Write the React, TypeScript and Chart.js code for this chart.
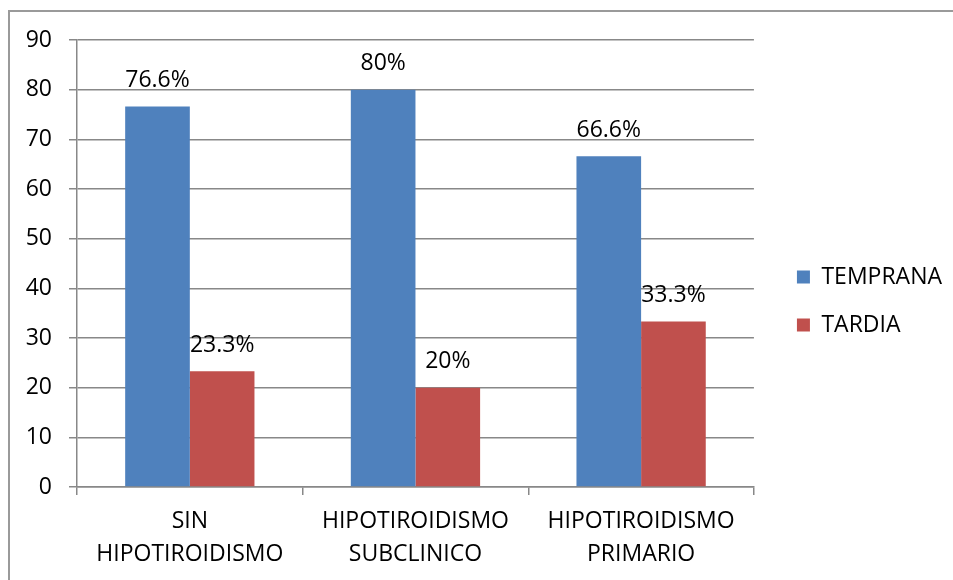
import React, { useEffect, useRef } from "react";
import { Chart, registerables } from "chart.js";

Chart.register(...registerables);

const categories: string[][] = [
  ["SIN", "HIPOTIROIDISMO"],
  ["HIPOTIROIDISMO", "SUBCLINICO"],
  ["HIPOTIROIDISMO", "PRIMARIO"],
];
const seriesNames = ["TEMPRANA", "TARDIA"];
const temprana = [76.6, 80, 66.6];
const tardia = [23.3, 20, 33.3];
const yMin = 0;
const yMax = 90;
const yStep = 10;

const FONT = "'Open Sans', sans-serif";
const FS = 23;
const GRID = "#888888";

const valueLabels = {
  id: "valueLabels",
  afterDatasetsDraw(chart: any) {
    const ctx = chart.ctx;
    ctx.save();
    ctx.font = `${FS}px ${FONT}`;
    ctx.fillStyle = "#000";
    ctx.textAlign = "center";
    ctx.textBaseline = "middle";
    chart.data.datasets.forEach((ds: any, i: number) => {
      const meta = chart.getDatasetMeta(i);
      meta.data.forEach((bar: any, j: number) => {
        ctx.fillText(`${ds.data[j]}%`, bar.x, bar.y - 26);
      });
    });
    ctx.restore();
  },
};

const legendShift = {
  id: "legendShift",
  afterLayout(chart: any) {
    const l = chart.legend;
    if (!l) return;
    const dx = 18;
    const dy = -9;
    l.left += dx;
    l.right += dx;
    l.top += dy;
    l.bottom += dy;
  },
};

export default function App() {
  const ref = useRef<HTMLCanvasElement | null>(null);
  useEffect(() => {
    document.body.style.margin = "0";
    const chart = new Chart(ref.current as HTMLCanvasElement, {
      type: "bar",
      data: {
        labels: categories,
        datasets: [
          {
            label: seriesNames[0],
            data: temprana,
            backgroundColor: "#4F81BD",
            borderWidth: 0,
          },
          {
            label: seriesNames[1],
            data: tardia,
            backgroundColor: "#C0504D",
            borderWidth: 0,
          },
        ],
      },
      options: {
        animation: false,
        responsive: false,
        devicePixelRatio: 1,
        datasets: { bar: { categoryPercentage: 0.573, barPercentage: 1 } },
        layout: { padding: { top: 40, right: 19, left: 0, bottom: 0 } },
        plugins: {
          legend: {
            position: "right",
            labels: {
              boxWidth: 13,
              boxHeight: 13,
              padding: 25,
              color: "#000",
              font: { family: FONT, size: FS },
            },
          },
          tooltip: { enabled: false },
        },
        scales: {
          x: {
            grid: {
              display: true,
              drawOnChartArea: false,
              tickLength: 8,
              color: GRID,
              lineWidth: 1.5,
            },
            border: { display: true, color: GRID, width: 1.5 },
            ticks: {
              padding: 10,
              color: "#000",
              font: { family: FONT, size: FS, lineHeight: "33px" },
              maxRotation: 0,
              autoSkip: false,
            },
            afterFit(scale: any) {
              scale.height = 93;
            },
          },
          y: {
            min: yMin,
            max: yMax,
            grid: {
              color: GRID,
              tickLength: 8,
              lineWidth: 1.5,
            },
            border: { display: true, color: GRID, width: 1.5 },
            ticks: {
              stepSize: yStep,
              padding: 17,
              color: "#000",
              font: { family: FONT, size: FS },
            },
            afterFit(scale: any) {
              scale.width = 77;
            },
          },
        },
      },
      plugins: [valueLabels, legendShift],
    });
    return () => chart.destroy();
  }, []);

  return (
    <div
      style={{
        position: "fixed",
        left: 0,
        top: 0,
        width: 953,
        height: 580,
        background: "#fff",
        overflow: "hidden",
      }}
    >
      <div
        style={{
          position: "absolute",
          left: 8,
          top: 10,
          width: 960,
          height: 600,
          borderLeft: "2px solid #9a9a9a",
          borderTop: "2px solid #9a9a9a",
        }}
      />
      <canvas
        ref={ref}
        width={953}
        height={580}
        style={{ position: "absolute", left: 0, top: 0 }}
      />
    </div>
  );
}
